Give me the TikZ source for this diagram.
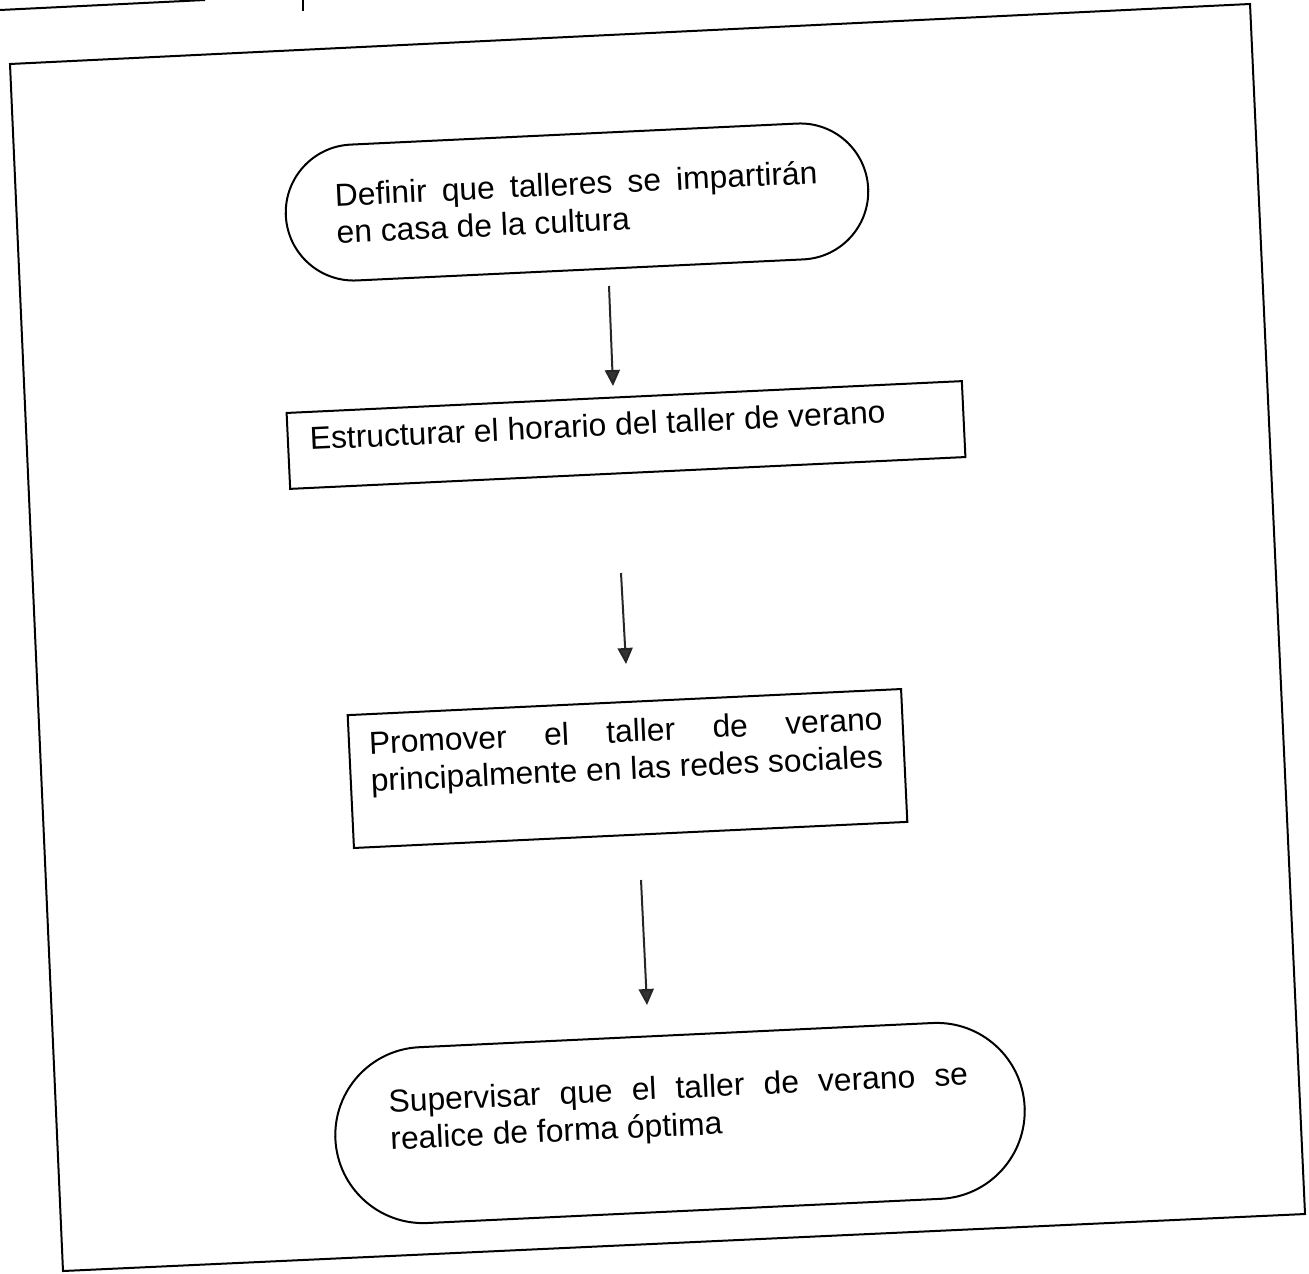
\documentclass[tikz,border=0pt]{standalone}
\usepackage{fontspec}
\setmainfont{Liberation Sans}
\usetikzlibrary{arrows.meta}
\newcommand{\flowfont}{\fontsize{15.9pt}{18.7pt}\selectfont}
\tikzset{
  shapebase/.style={draw=black, line width=1pt, inner sep=0pt, outer sep=0pt, font=\flowfont, rotate=2.7},
  termbox/.style={shapebase, rectangle, rounded corners=#1},
  rectbox/.style={shapebase, rectangle},
  flow/.style={line width=1pt, draw=black!85, -{Triangle[length=8pt,width=7.5pt,fill=black!80]}},
  frameline/.style={line width=1pt, draw=black}
}
\begin{document}
\begin{tikzpicture}[x=0.5pt, y=-0.5pt]
\useasboundingbox (0,0) rectangle (1309,1273);
\fill[white] (0,0) rectangle (1309,1273);

% remnants of a box above
\draw[frameline] (0,10) -- (205,0);
\draw[frameline] (303,0) -- (303,11);

% outer frame
\draw[frameline] (10,64) -- (1250,4) -- (1305,1214) -- (63,1271) -- cycle;

% terminal 1
\node[termbox=34pt, minimum width=291.5pt, minimum height=68pt] (t1) at (577,202)
  {\parbox{241.5pt}{\makebox[\linewidth][s]{Definir que talleres se impartirán}\\en casa de la cultura}};

% process 1
\node[rectbox, inner xsep=11pt, minimum width=338pt, minimum height=38pt] (p1) at (626,435)
  {\parbox[c][38pt][t]{316pt}{\vspace*{7.5pt}Estructurar el horario del taller de verano}};

% process 2
\node[rectbox, inner xsep=10pt, minimum width=277pt, minimum height=66.5pt] (p2) at (627.5,768.5)
  {\parbox[c][66.5pt][t]{257pt}{\vspace*{8.5pt}\makebox[\linewidth][s]{Promover el taller de verano}\\principalmente en las redes sociales}};

% terminal 2
\node[termbox=44pt, minimum width=345pt, minimum height=88pt] (t2) at (680,1123)
  {\parbox{290pt}{\makebox[\linewidth][s]{Supervisar que el taller de verano se}\\realice de forma óptima\par\vspace*{14pt}}};

% connectors
\coordinate (a1s) at (609,286);
\coordinate (a1e) at (613,386);
\coordinate (a2s) at (621,573);
\coordinate (a2e) at (626,664);
\coordinate (a3s) at (641,880);
\coordinate (a3e) at (647,1005);
\draw[flow] (a1s) -- (a1e);
\draw[flow] (a2s) -- (a2e);
\draw[flow] (a3s) -- (a3e);
\end{tikzpicture}
\end{document}
